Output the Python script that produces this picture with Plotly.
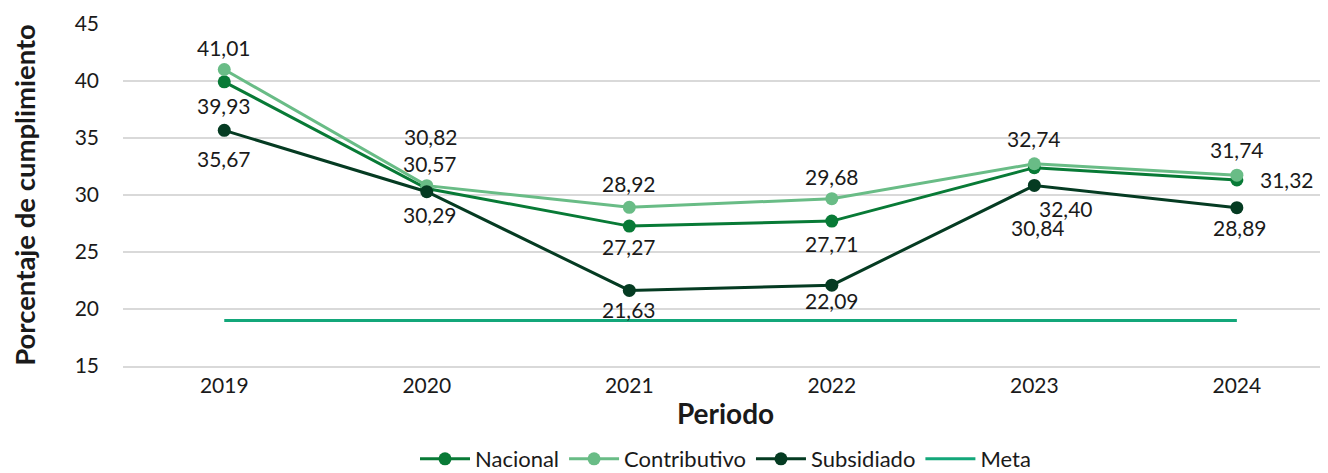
import plotly.graph_objects as go

periodos = ["2019", "2020", "2021", "2022", "2023", "2024"]
nacional = [39.93, 30.57, 27.27, 27.71, 32.40, 31.32]
contributivo = [41.01, 30.82, 28.92, 29.68, 32.74, 31.74]
subsidiado = [35.67, 30.29, 21.63, 22.09, 30.84, 28.89]
meta = [19, 19, 19, 19, 19, 19]

# label offsets (px) for each series, (xshift, yshift)
off_nac = [(0, -24), (3, 25), (0, -20), (0, -22), (32, -41), (50, 0)]
off_con = [(0, 22), (4, 49), (0, 24), (0, 22), (0, 25), (0, 26)]
off_sub = [(0, -28), (3, -23), (0, -19), (0, -15), (4, -42), (3, -20)]

FONT = "Lato"
series = [
    ("Nacional", nacional, "#087a36", off_nac),
    ("Contributivo", contributivo, "#69bc86", off_con),
    ("Subsidiado", subsidiado, "#053b22", off_sub),
]

fig = go.Figure()
for name, vals, color, _ in series:
    fig.add_trace(go.Scatter(x=periodos, y=vals, name=name, mode="lines+markers",
                             line=dict(color=color, width=3),
                             marker=dict(color=color, size=13)))
fig.add_trace(go.Scatter(x=periodos, y=meta, name="Meta", mode="lines",
                         line=dict(color="#13a77a", width=3)))

annotations = []
for name, vals, color, offs in series:
    for i, (v, (dx, dy)) in enumerate(zip(vals, offs)):
        annotations.append(dict(x=i, y=v, xref="x", yref="y",
                                text=f"{v:.2f}".replace(".", ","),
                                showarrow=False, xshift=dx, yshift=dy,
                                font=dict(family=FONT, size=21, color="#1a1a1a")))

# page body has an 8px margin, so the figure is a bit smaller than the window
fig.update_layout(
    width=1320, height=465,
    margin=dict(l=115, r=0, t=16, b=107, autoexpand=False),
    paper_bgcolor="white", plot_bgcolor="white",
    font=dict(family=FONT, size=21, color="#1a1a1a"),
    annotations=annotations,
    showlegend=True,
    legend=dict(orientation="h", x=0.5, xanchor="center", y=-0.272, yanchor="middle",
                font=dict(size=22), itemwidth=50, tracegroupgap=0),
    xaxis=dict(type="category", range=[-0.5, 5.45], showgrid=False, showline=True,
               linecolor="#d9d9d9", linewidth=2, ticks="", automargin=False,
               title=dict(text="<b>Periodo</b>", font=dict(size=28), standoff=8)),
    yaxis=dict(range=[15, 45], dtick=5, gridcolor="#d9d9d9", gridwidth=1.5,
               zeroline=False, ticklabelstandoff=23, automargin=False,
               title=dict(text="<b>Porcentaje de cumplimiento</b>", font=dict(size=27.5), standoff=35)),
)

fig.write_html("out.html")
